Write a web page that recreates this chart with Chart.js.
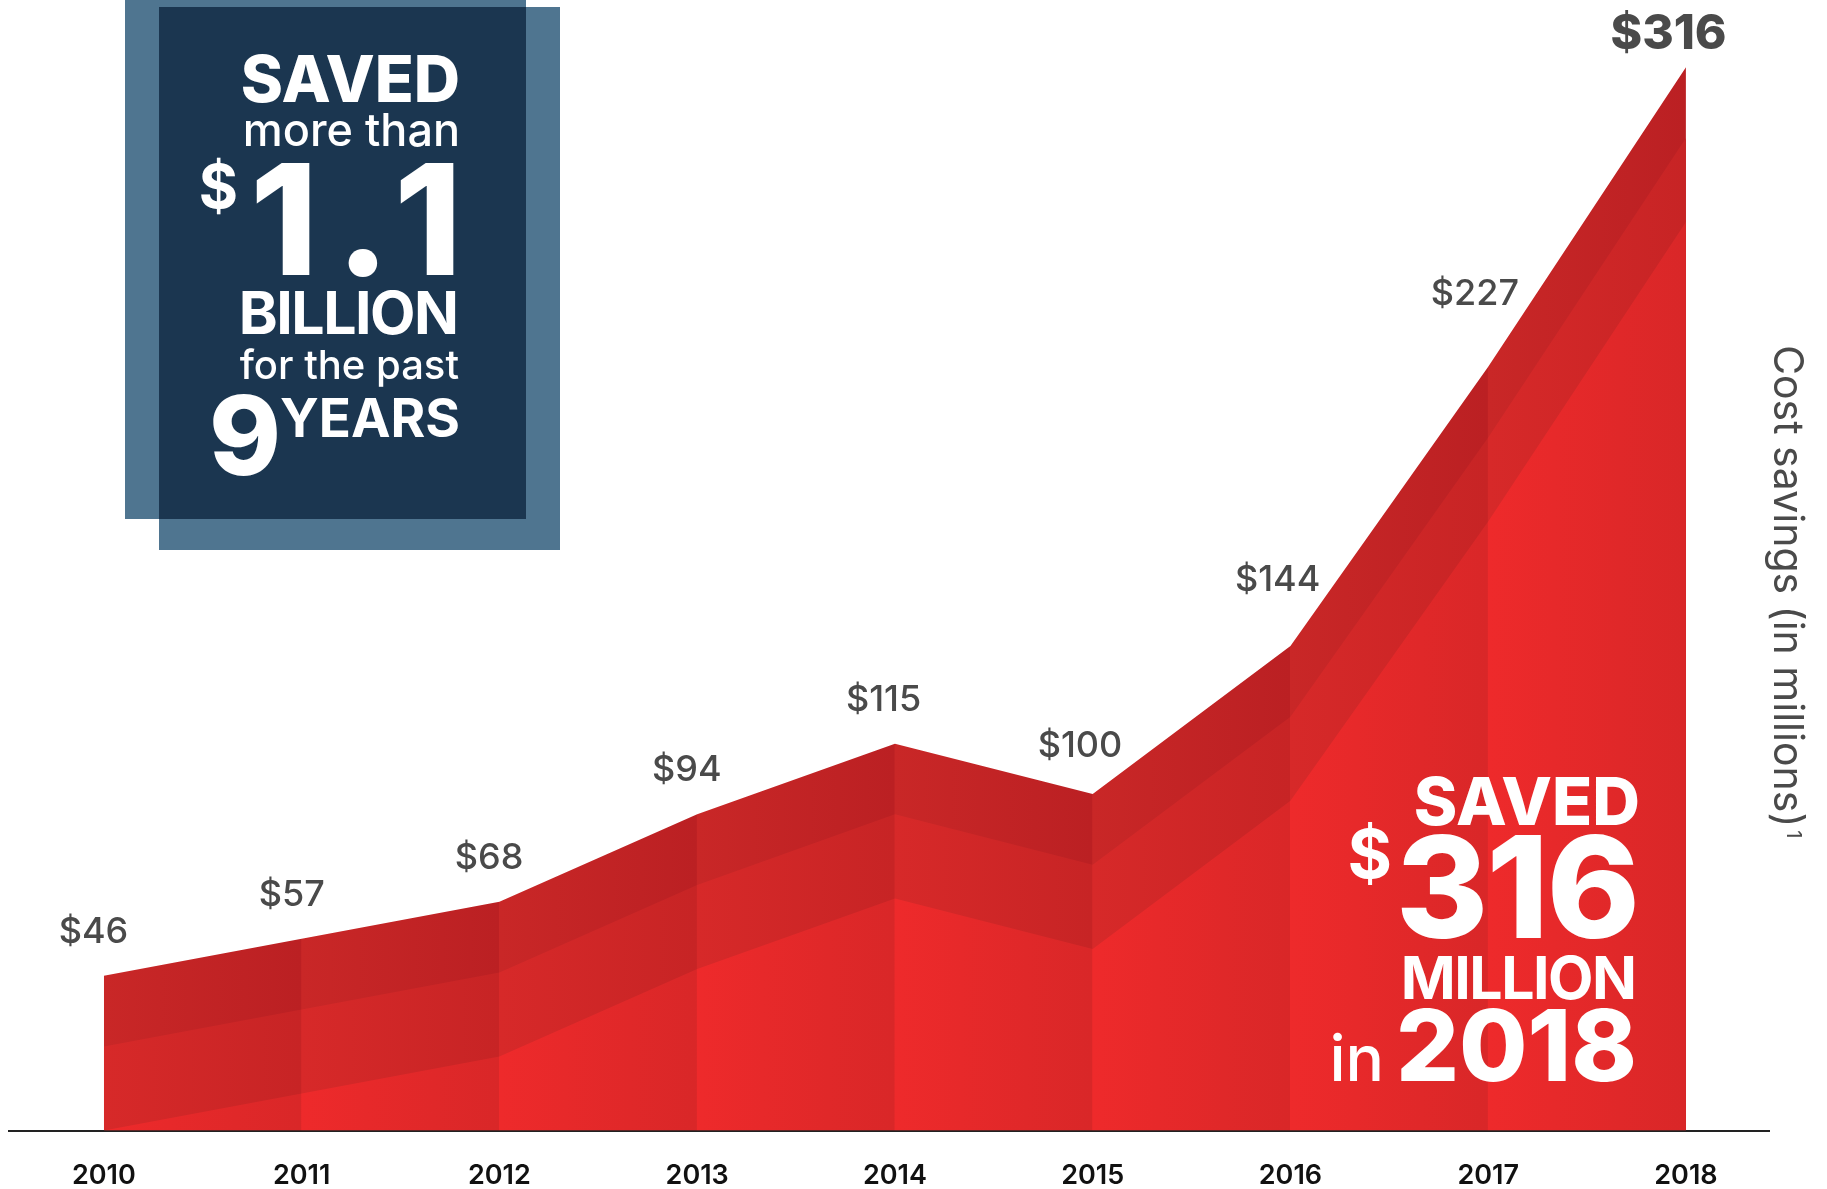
<!DOCTYPE html>
<html>
<head>
<meta charset="utf-8">
<title>Cost savings 2010-2018</title>
<script src="https://cdn.jsdelivr.net/npm/chart.js@4.4.1/dist/chart.umd.min.js"></script>
<style>
  html, body { margin: 0; padding: 0; background: #fff; }
  #wrap { width: 1827px; height: 1189px; position: relative; }
</style>
</head>
<body>
<div id="wrap"><canvas id="savingsChart"></canvas></div>
<script>
const years = [2010, 2011, 2012, 2013, 2014, 2015, 2016, 2017, 2018];
const savings = [46, 57, 68, 94, 115, 100, 144, 227, 316];
// inner decorative bands
const midBand = [25, 36, 47, 73, 94, 79, 123, 206, 295];
const lowBand = [0, 11, 22, 48, 69, 54, 98, 181, 270];
const axisTitle = "Cost savings (in millions)";

const FONT = "Inter, 'Open Sans', sans-serif";

// each column goes from a lighter red on the left to a darker one on the right
function columnShade(light, dark) {
  return function (context) {
    const chart = context.chart;
    const xs = chart.scales.x;
    if (!chart.chartArea || !xs) return light;
    const x0 = xs.getPixelForValue(years[0]);
    const x1 = xs.getPixelForValue(years[years.length - 1]);
    const g = chart.ctx.createLinearGradient(x0, 0, x1, 0);
    const n = years.length - 1;
    for (let i = 0; i < n; i++) {
      g.addColorStop(i / n, light);
      g.addColorStop((i + 1) / n - 0.0005, dark);
    }
    g.addColorStop(1, dark);
    return g;
  };
}

function band(values, light, dark) {
  return {
    data: years.map((y, i) => ({ x: y, y: values[i] })),
    fill: "origin",
    backgroundColor: columnShade(light, dark),
    borderWidth: 0,
    pointRadius: 0,
    tension: 0,
  };
}

const valueLabels = {
  id: "valueLabels",
  afterDatasetsDraw(chart) {
    const pts = chart.getDatasetMeta(2).data;
    const ctx = chart.ctx;
    const lineY = (px) => {
      for (let i = 0; i < pts.length - 1; i++) {
        const a = pts[i], b = pts[i + 1];
        if (px >= a.x && px <= b.x) return a.y + (b.y - a.y) * (px - a.x) / (b.x - a.x);
      }
      return Infinity;
    };
    ctx.save();
    ctx.textAlign = "center";
    ctx.textBaseline = "alphabetic";
    ctx.fillStyle = "#4a4a4a";
    pts.forEach((p, i) => {
      const last = i === pts.length - 1;
      const size = last ? 48 : 36;
      ctx.font = (last ? "800 " : "500 ") + size + "px " + FONT;
      const text = "$" + savings[i];
      const w = ctx.measureText(text).width;
      const cx = p.x - w * 0.15;
      let cy = p.y - (last ? 36 : 46);
      for (let sx = cx - w / 2; sx <= cx + w / 2; sx += 2) {
        cy = Math.min(cy, lineY(sx) - 28);
      }
      ctx.fillText(text, cx, cy + size * 0.36);
    });
    ctx.restore();
  },
};

const callouts = {
  id: "callouts",
  afterDraw(chart) {
    const ctx = chart.ctx;
    ctx.save();

    // left box
    ctx.fillStyle = "#4f7590";
    ctx.fillRect(125, 0, 401, 519);
    ctx.fillRect(159, 7, 401, 543);
    ctx.fillStyle = "#1b3650";
    ctx.fillRect(159, 7, 367, 512);

    const txt = (s, x, y, size, weight, spacing) => {
      ctx.font = weight + " " + size + "px " + FONT;
      ctx.letterSpacing = (spacing || 0) + "px";
      ctx.fillText(s, x + (spacing || 0), y);
    };
    ctx.fillStyle = "#ffffff";
    ctx.textAlign = "right";
    ctx.textBaseline = "alphabetic";

    txt("SAVED", 460, 102, 64, 800);
    txt("more than", 460, 146, 45, 500);
    txt("1.1", 462, 275, 154, 800, 18);
    txt("$", 238, 208, 60, 700);
    txt("BILLION", 459, 334, 59, 700, -1.5);
    txt("for the past", 459, 379, 40, 500);
    txt("9", 281, 475, 109, 800);
    txt("YEARS", 460, 437, 53, 700);

    // right callout over the 2018 area
    txt("SAVED", 1640, 825, 66, 800);
    txt("$", 1392, 878, 68, 700);
    txt("316", 1640, 938, 141, 800, -2);
    txt("MILLION", 1637, 999, 59, 700, -1.5);
    txt("2018", 1637, 1081, 99, 800);
    txt("in", 1384, 1081, 64, 500);

    // axis title, reading top to bottom
    ctx.letterSpacing = "0px";
    ctx.fillStyle = "#4a4a4a";
    ctx.translate(1789, 345);
    ctx.rotate(Math.PI / 2);
    ctx.textAlign = "left";
    ctx.font = "400 41px " + FONT;
    ctx.fillText(axisTitle, 0, 15);
    const w = ctx.measureText(axisTitle).width;
    ctx.font = "400 20px " + FONT;
    ctx.fillText("1", w + 3, 2);
    ctx.restore();
  },
};

const ctx = document.getElementById("savingsChart").getContext("2d");
const savingsChart = new Chart(ctx, {
  type: "line",
  data: {
    datasets: [
      band(lowBand, "#ee2a2b", "#d92728"),
      band(midBand, "#d72929", "#c72425"),
      band(savings, "#c92727", "#bb2023"),
    ],
  },
  options: {
    responsive: true,
    maintainAspectRatio: false,
    devicePixelRatio: 1,
    animation: false,
    layout: { padding: { left: 9, right: 58, top: 0, bottom: -32 } },
    plugins: {
      legend: { display: false },
      tooltip: { enabled: false },
    },
    scales: {
      x: {
        type: "linear",
        min: 2009.52,
        max: 2018.42,
        afterBuildTicks: (scale) => {
          scale.ticks = years.map((v) => ({ value: v }));
        },
        grid: { display: false, drawTicks: false },
        border: { display: true, color: "#222", width: 2 },
        ticks: {
          autoSkip: false,
          maxRotation: 0,
          padding: 29,
          color: "#111",
          font: { family: FONT, size: 27, weight: "600" },
          callback: (v) => String(v),
        },
      },
      y: {
        display: false,
        min: 0,
        max: 336,
      },
    },
  },
  plugins: [valueLabels, callouts],
});
</script>
</body>
</html>
